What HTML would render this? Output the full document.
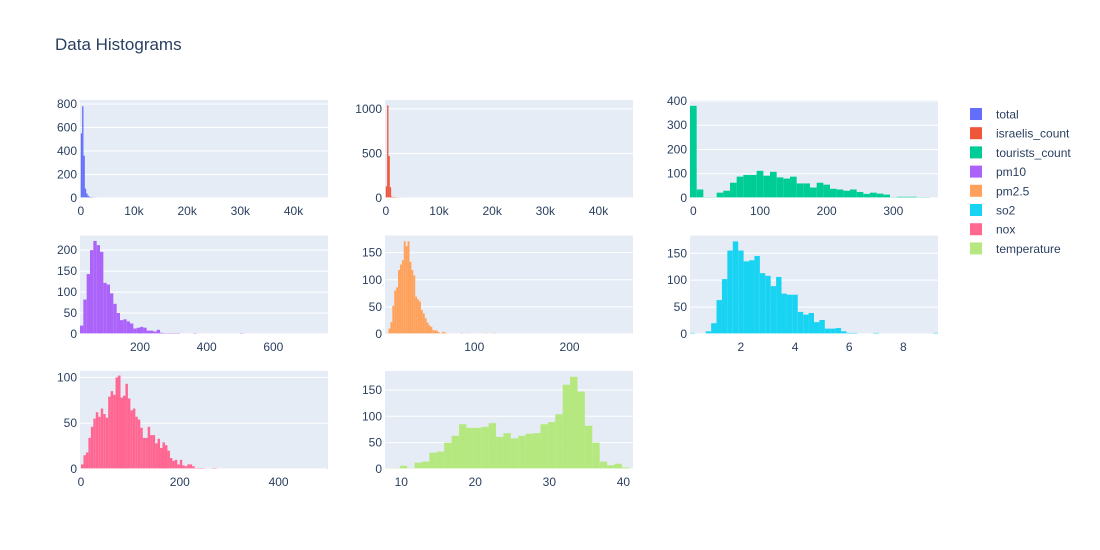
<!DOCTYPE html>
<html><head><meta charset="utf-8"><style>
body{margin:0;background:#fff;}
svg{display:block;font-family:"Liberation Sans",Arial,sans-serif;}
</style></head><body>
<svg id="chart" width="1100" height="550">
<text x="55" y="50" font-size="17" fill="#2a3f5f">Data Histograms</text>
</svg>
<script>
// ---- data ----
const seriesNames = ["total","israelis_count","tourists_count","pm10","pm2.5","so2","nox","temperature"];
const totalBinStart = 0, totalBinWidth = 250;
const totalCounts = [550,780,360,80,40,20,12,8,5,3,2,2];
const israelisBinStart = 0, israelisBinWidth = 250;
const israelisCounts = [130,1040,470,120,15,10,8,6,5,3,2,2];
const touristsBinStart = -5, touristsBinWidth = 10;
const touristsCounts = [380,35,2,2,22,30,63,88,95,95,112,92,108,85,80,88,60,60,43,63,55,38,35,30,35,25,17,22,18,14,2,5,5,5,2,2];
const pm10BinStart = 20, pm10BinWidth = 10;
const pm10Counts = [20,82,143,200,222,212,196,122,118,97,72,50,33,35,30,25,13,15,17,15,8,8,6,10,3,2,2,2,2,2,0,0,0,0,2,0,0,0,0,0,0,0,0,0,0,0,0,0,2];
const pm25BinStart = 8, pm25BinWidth = 2;
const pm25Counts = [1,10,22,52,80,86,118,128,136,171,162,171,133,118,108,69,64,60,44,38,29,21,16,13,7,7,6,3,1,4,3,1,0,0,0,0,0,0,0,2,0,0,1,0,0,0,0,0,0,0,0,0,1,0,0,0,2];
const so2BinStart = 0.1, so2BinWidth = 0.2;
const so2Counts = [2,0,0,5,20,63,102,155,172,155,135,137,145,113,108,89,106,75,73,73,41,36,39,22,26,10,10,11,5,2,2,0,0,0,2,0,0,0,0,0,0,0,0,0,0,2];
const noxBinStart = 0, noxBinWidth = 5;
const noxCounts = [5,15,18,34,46,55,62,57,66,60,56,79,85,81,100,102,78,80,93,77,64,66,57,54,45,34,34,46,37,37,28,33,23,29,26,20,12,9,10,5,10,4,3,5,5,3,1,1,1,1,0,0,0,1,1];
const noxOutlierX = 498, noxOutlierCount = 1;
const tempBinStart = 7.8, tempBinWidth = 1;
const tempCounts = [1,1,6,1,12,14,31,33,50,63,85,78,78,80,87,61,68,58,63,67,68,85,89,104,160,175,147,82,50,14,7,10,3];
// ticks
const xTicksK = [0,10000,20000,30000,40000];
const xTickLabelsK = ["0","10k","20k","30k","40k"];

const colors = ["#636efa","#EF553B","#00cc96","#ab63fa","#FFA15A","#19d3f3","#FF6692","#B6E880"];
const panels = [
 {name:"total",x0:80,x1:328,y0:100,y1:198,xr:[-150,46480],yr:[0,834],start:totalBinStart,w:totalBinWidth,counts:totalCounts,yt:[0,200,400,600,800],xt:xTicksK,xl:xTickLabelsK},
 {name:"israelis-count",x0:385,x1:633,y0:100,y1:198,xr:[-150,46480],yr:[0,1100],start:israelisBinStart,w:israelisBinWidth,counts:israelisCounts,yt:[0,500,1000],xt:xTicksK,xl:xTickLabelsK},
 {name:"tourists-count",x0:690,x1:938,y0:100,y1:198,xr:[-5,367],yr:[0,404],start:touristsBinStart,w:touristsBinWidth,counts:touristsCounts,yt:[0,100,200,300,400],xt:[0,100,200,300]},
 {name:"pm10",x0:80,x1:328,y0:235.5,y1:334,xr:[20,764],yr:[0,235],start:pm10BinStart,w:pm10BinWidth,counts:pm10Counts,yt:[0,50,100,150,200],xt:[200,400,600]},
 {name:"pm2-5",x0:385,x1:633,y0:235.5,y1:334,xr:[6.3,266.6],yr:[0,181.7],start:pm25BinStart,w:pm25BinWidth,counts:pm25Counts,yt:[0,50,100,150],xt:[100,200]},
 {name:"so2",x0:690,x1:938,y0:235.5,y1:334,xr:[0.12,9.28],yr:[0,183],start:so2BinStart,w:so2BinWidth,counts:so2Counts,yt:[0,50,100,150],xt:[2,4,6,8]},
 {name:"nox",x0:80,x1:328,y0:371,y1:469,xr:[-2,500],yr:[0,107],start:noxBinStart,w:noxBinWidth,counts:noxCounts,yt:[0,50,100],xt:[0,200,400],extra:[noxOutlierX,noxOutlierCount]},
 {name:"temperature",x0:385,x1:633,y0:371,y1:469,xr:[7.8,41.3],yr:[0,186],start:tempBinStart,w:tempBinWidth,counts:tempCounts,yt:[0,50,100,150],xt:[10,20,30,40]}
];
const NS="http://www.w3.org/2000/svg";
const svg=document.getElementById("chart");
function mk(tag,attrs,parent){const e=document.createElementNS(NS,tag);for(const k in attrs)e.setAttribute(k,attrs[k]);(parent||svg).appendChild(e);return e;}
panels.forEach((p,i)=>{
  const g=mk("g",{});
  
  
  const sx=v=>p.x0+(v-p.xr[0])/(p.xr[1]-p.xr[0])*(p.x1-p.x0);
  const sy=v=>p.y1-(v-p.yr[0])/(p.yr[1]-p.yr[0])*(p.y1-p.y0);
  const bg=mk("rect",{x:p.x0,y:p.y0,width:p.x1-p.x0,height:p.y1-p.y0,fill:"#E5ECF6"},g);
  
  
  p.yt.forEach(t=>{
    const y=sy(t);
    if(t!==0) mk("line",{x1:p.x0,x2:p.x1,y1:y,y2:y,stroke:"#fff","stroke-width":1},g);
    const tx=mk("text",{x:p.x0-3,y:y+4,"font-size":12,fill:"#2a3f5f","text-anchor":"end"},g);
    tx.textContent=t;
    
    
  });
  const clip=mk("g",{},g);
  const addBar=(a,b,c)=>{
    if(c<=0)return;
    const xa=Math.max(sx(a),p.x0), xb=Math.min(sx(b),p.x1);
    if(xb<=xa)return;
    const r=mk("rect",{x:xa,y:sy(c),width:xb-xa,height:p.y1-sy(c),fill:colors[i]},clip);
    
    
  };
  p.counts.forEach((c,k)=>addBar(p.start+k*p.w,p.start+(k+1)*p.w,c));
  if(p.extra) addBar(p.extra[0],p.extra[0]+p.w,p.extra[1]);
  mk("line",{x1:p.x0,x2:p.x1,y1:p.y1,y2:p.y1,stroke:"#fff","stroke-width":2,"stroke-opacity":0.6},g);
  p.xt.forEach((t,k)=>{
    const tx=mk("text",{x:sx(t),y:p.y1+17,"font-size":12,fill:"#2a3f5f","text-anchor":"middle"},g);
    tx.textContent=p.xl?p.xl[k]:t;
    
    
  });
});
// legend
const lg=mk("g",{});


seriesNames.forEach((n,k)=>{
  const y=114+k*19.2;
  const it=mk("g",{},lg);
  
  
  mk("rect",{x:970,y:y-6,width:12,height:12,fill:colors[k]},it);
  const t=mk("text",{x:996,y:y+4.5,"font-size":12,fill:"#2a3f5f"},it);
  t.textContent=n;
});
</script>
</body></html>
